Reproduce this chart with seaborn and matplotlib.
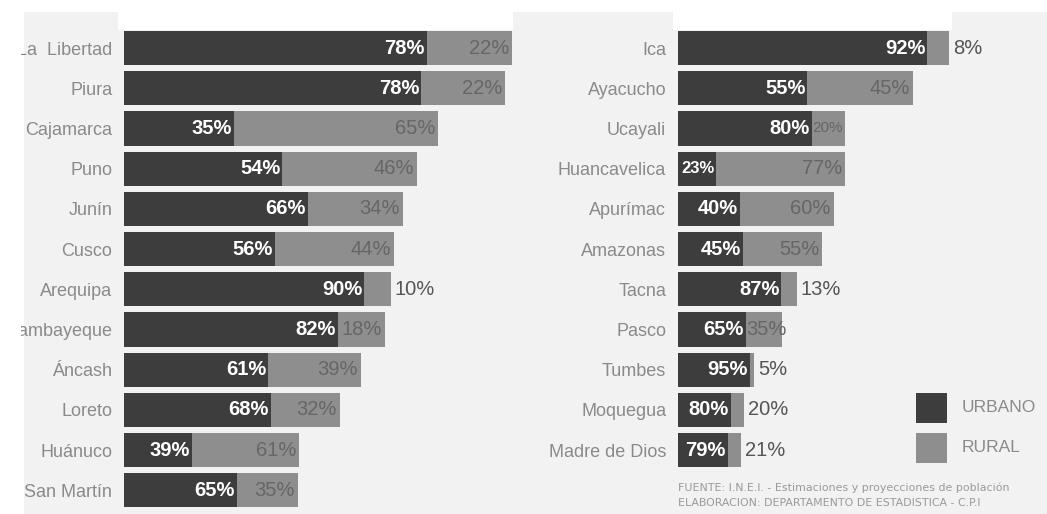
import matplotlib
matplotlib.use("Agg")
import matplotlib.pyplot as plt
from matplotlib.patches import Rectangle
from matplotlib import font_manager
import numpy as np
import pandas as pd
import seaborn as sns

# Regions, total population (thousands) and urban share (%)
regions_left = ["La  Libertad", "Piura", "Cajamarca", "Puno", "Junín", "Cusco",
                "Arequipa", "Lambayeque", "Áncash", "Loreto", "Huánuco", "San Martín"]
total_left = [1797, 1764, 1454, 1357, 1292, 1250, 1236, 1208, 1097, 1000, 810, 806]
urban_pct_left = [78, 78, 35, 54, 66, 56, 90, 82, 61, 68, 39, 65]

regions_right = ["Ica", "Ayacucho", "Ucayali", "Huancavelica", "Apurímac", "Amazonas",
                 "Tacna", "Pasco", "Tumbes", "Moquegua", "Madre de Dios"]
total_right = [786, 682, 484, 484, 452, 418, 345, 302, 220, 191, 183]
urban_pct_right = [92, 55, 80, 23, 40, 45, 87, 65, 95, 80, 79]

legend_labels = ["URBANO", "RURAL"]
source_lines = ["FUENTE: I.N.E.I. - Estimaciones y proyecciones de población",
                "ELABORACION: DEPARTAMENTO DE ESTADISTICA - C.P.I"]

DARK = "#3d3d3d"
LIGHT = "#8e8e8e"
BG = "#f2f2f2"
LABEL = "#8a8a8a"

available = {f.name for f in font_manager.fontManager.ttflist}
NARROW = "Liberation Sans Narrow" if "Liberation Sans Narrow" in available else "Liberation Sans"

sns.set_theme(style="white")
plt.rcParams["font.family"] = [NARROW, "DejaVu Sans"]

W, H = 1047, 514
fig = plt.figure(figsize=(W / 100, H / 100), dpi=100, facecolor="white")


def px_rect(x0, y0, x1, y1, color, z=0):
    """Figure-level rectangle given in pixel coords measured from the top-left."""
    r = Rectangle((x0 / W, 1 - y1 / H), (x1 - x0) / W, (y1 - y0) / H,
                  transform=fig.transFigure, facecolor=color, edgecolor="none", zorder=z)
    fig.add_artist(r)


# page background
px_rect(24, 12, W, H, BG, z=-10)
px_rect(118, 12, 513, 30, "white", z=-9)
px_rect(673, 12, 952, 30, "white", z=-9)
px_rect(0, 0, 21, H, "white", z=20)

slot = 40.2
NUM_FONT = ["Liberation Sans", "DejaVu Sans"]


def draw_panel(x_left, x_width, scale, regions, totals, upct, top=28):
    n = len(regions)
    ax = fig.add_axes([x_left / W, 1 - (top + n * slot) / H, x_width / W, n * slot / H])
    ax.set_facecolor("none")
    tot = np.array(totals, float)
    urb = tot * np.array(upct) / 100.0
    df = pd.DataFrame({"region": regions, "total": tot, "urbano": urb})
    sns.barplot(data=df, x="total", y="region", color=LIGHT, saturation=1,
                width=0.85, ax=ax, orient="h", linewidth=0, edgecolor="none")
    sns.barplot(data=df, x="urbano", y="region", color=DARK, saturation=1,
                width=0.85, ax=ax, orient="h", linewidth=0, edgecolor="none")
    ax.set_xlim(0, x_width / scale)
    ax.set_ylim(n - 0.5, -0.5)
    ax.set_xlabel("")
    ax.set_ylabel("")
    ax.set_xticks([])
    for s in ax.spines.values():
        s.set_visible(False)
    ax.tick_params(axis="y", length=0, pad=8.5, labelsize=13, labelcolor=LABEL)

    px = scale  # pixels per data unit
    for i, (t, u, p) in enumerate(zip(tot, urb, upct)):
        r = 100 - p
        upx = u * px
        rpx = (t - u) * px
        fs_u = 14.5 if upx > 44 else 12
        ax.text(u - 2 / px, i, f"{p}%", ha="right", va="center", color="white",
                fontsize=fs_u, fontweight="bold", family=NUM_FONT)
        if rpx >= 40:
            ax.text(t - 3 / px, i, f"{r}%", ha="right", va="center", color="#666666",
                    fontsize=14.5, family=NUM_FONT)
        elif rpx >= 31:
            fs_r = 14.5 if rpx > 35 else 11
            ax.text(u + 1 / px, i, f"{r}%", ha="left", va="center", color="#666666",
                    fontsize=fs_r, family=NUM_FONT)
        else:
            ax.text(t + 4 / px, i, f"{r}%", ha="left", va="center", color="#555555",
                    fontsize=14.5, family=NUM_FONT)
    return ax


draw_panel(124, 396, 388 / 1797, regions_left, total_left, urban_pct_left)
draw_panel(678, 300, 271 / 786, regions_right, total_right, urban_pct_right)

# legend
px_rect(916, 393, 947, 423, DARK, z=1)
px_rect(916, 433, 947, 463, LIGHT, z=1)
fig.text(962 / W, 1 - 408 / H, legend_labels[0], ha="left", va="center",
         color=LABEL, fontsize=12.5)
fig.text(962 / W, 1 - 448 / H, legend_labels[1], ha="left", va="center",
         color=LABEL, fontsize=12.5)

# source note
fig.text(678 / W, 1 - 488 / H, source_lines[0], ha="left", va="center",
         color="#9a9a9a", fontsize=7.9, family=["DejaVu Sans"])
fig.text(678 / W, 1 - 503 / H, source_lines[1], ha="left", va="center",
         color="#9a9a9a", fontsize=7.9, family=["DejaVu Sans"])

fig.savefig("out.png", dpi=100, facecolor="white")
